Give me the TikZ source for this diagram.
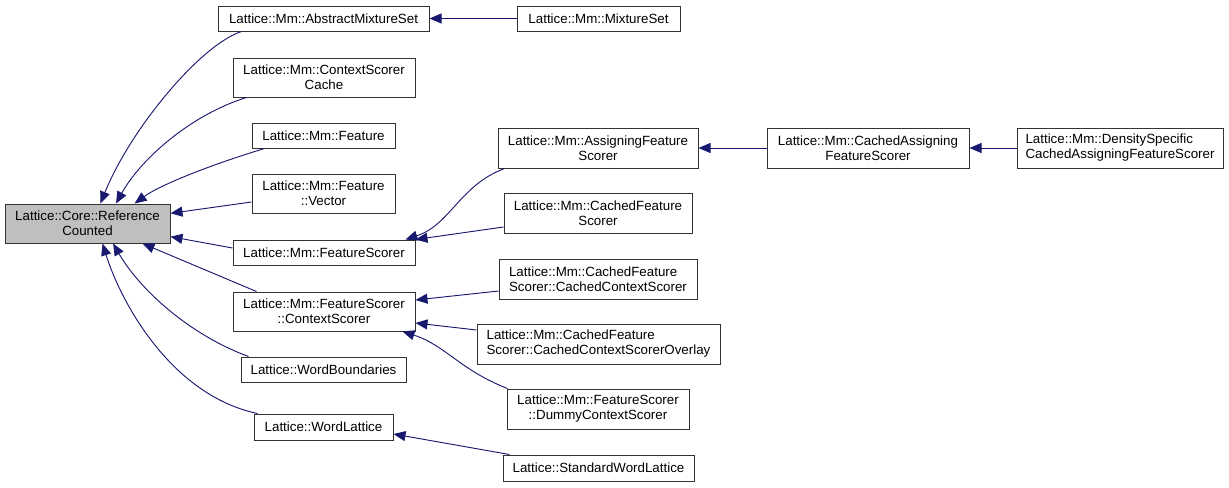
\documentclass[tikz,border=0pt]{standalone}
\usepackage{fontspec}
\setmainfont{Liberation Sans}
\usetikzlibrary{arrows.meta,calc}

\definecolor{edgeblue}{HTML}{191970}
\definecolor{rootgray}{HTML}{BFBFBF}

\tikzset{
  cls/.style={draw=black!80, line width=0.75pt, fill=white, font=\fontsize{10}{11.3}\selectfont,
    align=center, inner sep=1pt, minimum height=#1*0.75pt},
  cls/.default=25,
  inh/.style={draw=edgeblue, line width=0.7pt, -{Triangle[length=9pt,width=7.5pt]}}
}

\begin{document}
\begin{tikzpicture}[x=0.75pt, y=-0.75pt]
  \useasboundingbox (0,0) rectangle (1229,487);

  % base class
  \node[cls=39, fill=rootgray, minimum width=165*0.75pt] (root) at (87.5,223.5) {Lattice::Core::Reference\\Counted};

  % first level
  \node[cls, minimum width=211*0.75pt] (ams) at (323.5,18.5) {Lattice::Mm::AbstractMixtureSet};
  \node[cls=39, minimum width=182*0.75pt] (csc) at (324,77.5) {Lattice::Mm::ContextScorer\\Cache};
  \node[cls, minimum width=143*0.75pt] (feat) at (323.5,135.5) {Lattice::Mm::Feature};
  \node[cls=39, minimum width=143*0.75pt] (fvec) at (323.5,193.5) {Lattice::Mm::Feature\\::Vector};
  \node[cls, minimum width=182*0.75pt] (fs) at (324,252.5) {Lattice::Mm::FeatureScorer};
  \node[cls=39, minimum width=182*0.75pt] (cs) at (324,311.5) {Lattice::Mm::FeatureScorer\\::ContextScorer};
  \node[cls, minimum width=165*0.75pt] (wb) at (323.5,369.5) {Lattice::WordBoundaries};
  \node[cls=26, minimum width=139*0.75pt] (wl) at (323.5,427) {Lattice::WordLattice};

  % second level
  \node[cls, minimum width=163*0.75pt] (ms) at (598.5,18.5) {Lattice::Mm::MixtureSet};
  \node[cls=40, minimum width=200*0.75pt] (afs) at (598,148) {Lattice::Mm::AssigningFeature\\Scorer};
  \node[cls=40, minimum width=188*0.75pt] (cfs) at (598,213) {Lattice::Mm::CachedFeature\\Scorer};
  \node[cls=40, minimum width=198*0.75pt, align=left] (ccs) at (598,279) {Lattice::Mm::CachedFeature\\Scorer::CachedContextScorer};
  \node[cls=40, minimum width=243*0.75pt, align=left] (cco) at (598.5,344) {Lattice::Mm::CachedFeature\\Scorer::CachedContextScorerOverlay};
  \node[cls=40, minimum width=182*0.75pt] (dcs) at (598,409) {Lattice::Mm::FeatureScorer\\::DummyContextScorer};
  \node[cls=26, minimum width=191*0.75pt] (swl) at (598.5,468) {Lattice::StandardWordLattice};

  % third and fourth level
  \node[cls=40, minimum width=202*0.75pt] (cafs) at (868,148) {Lattice::Mm::CachedAssigning\\FeatureScorer};
  \node[cls=40, minimum width=206*0.75pt, align=left] (dscafs) at (1120,148) {Lattice::Mm::DensitySpecific\\CachedAssigningFeatureScorer};

  % edges to the base class
  \draw[inh] ($(ams.south west)+(24,0)$) .. controls (200,45) and (130,130) .. (root.57);
  \draw[inh] ($(csc.south west)+(14,0)$) .. controls (190,115) and (140,160) .. (root.35);
  \draw[inh] ($(feat.south west)+(13,0)$) .. controls (210,165) and (160,185) .. (root.23);
  \draw[inh] ($(fvec.west)+(0,8.5)$) -- (root.7);
  \draw[inh] ($(fs.west)+(0,-4.5)$) -- (root.-9);
  \draw[inh] ($(cs.north west)+(24,0)$) -- (root.-20);
  \draw[inh] ($(wb.north west)+(8,0)$) .. controls (190,335) and (140,290) .. (root.-38);
  \draw[inh] ($(wl.north west)+(4,0)$) .. controls (170,395) and (120,300) .. (root.-53);

  % other edges
  \draw[inh] (ms) -- (ams);
  \draw[inh] ($(afs.south west)+(7,0)$) .. controls (460,185) and (450,225) .. ($(fs.north east)+(-10,0)$);
  \draw[inh] ($(cfs.west)+(0,14)$) -- (fs.north east);
  \draw[inh] ($(ccs.west)+(0,12)$) -- ($(cs.east)+(0,-11.5)$);
  \draw[inh] ($(cco.west)+(0,-14)$) -- ($(cs.east)+(0,11.5)$);
  \draw[inh] ($(dcs.north west)+(1,0)$) .. controls (460,370) and (445,345) .. ($(cs.south east)+(-13,0)$);
  \draw[inh] ($(swl.north west)+(7,0)$) -- ($(wl.east)+(0,7)$);
  \draw[inh] (cafs) -- (afs);
  \draw[inh] (dscafs) -- (cafs);

\end{tikzpicture}
\end{document}
